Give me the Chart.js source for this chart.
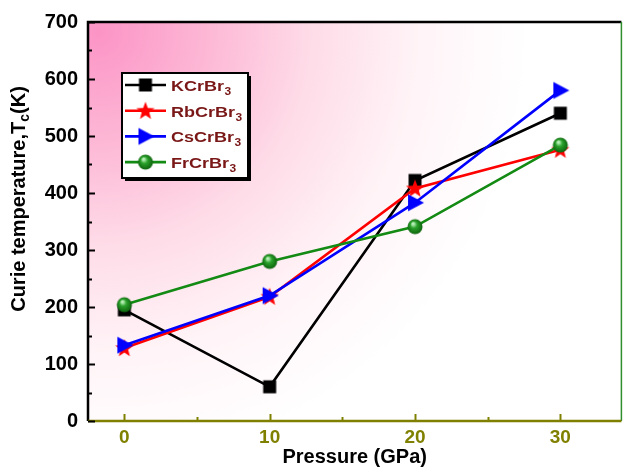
<!DOCTYPE html>
<html>
<head>
<meta charset="utf-8">
<script src="https://cdn.jsdelivr.net/npm/chart.js@4.4.1/dist/chart.umd.min.js"></script>
<style>
  body { margin: 0; background: #fff; }
  #wrap { width: 628px; height: 468px; }
</style>
</head>
<body>
<div id="wrap"><canvas id="curieChart" width="628" height="468"></canvas></div>
<script>
// pressure points (GPa) and Curie temperatures (K)
var pressure = [0, 10, 20, 30];
var tcKCrBr3 = [195, 60, 422, 540];
var tcRbCrBr3 = [128, 218, 408, 476];
var tcCsCrBr3 = [133, 220, 383, 580];
var tcFrCrBr3 = [204, 280, 341, 484];

var compounds = ['KCrBr', 'RbCrBr', 'CsCrBr', 'FrCrBr'];
var xTicks = [0, 10, 20, 30];
var yTicks = [0, 100, 200, 300, 400, 500, 600, 700];

var FONT = '"Liberation Sans", Arial, sans-serif';

// little canvases used as point markers (and reused in the legend)
function makeMarker(type, color) {
    var c = document.createElement('canvas');
    c.width = 20; c.height = 20;
    var g = c.getContext('2d');
    g.fillStyle = color;
    if (type === 'square') {
        g.fillRect(3.5, 3.5, 13, 13);
    } else if (type === 'star') {
        g.beginPath();
        for (var i = 0; i < 10; i++) {
            var r = i % 2 === 0 ? 9.5 : 4;
            var a = -Math.PI / 2 + i * Math.PI / 5;
            g.lineTo(10 + r * Math.cos(a), 10.5 + r * Math.sin(a));
        }
        g.closePath();
        g.fill();
    } else if (type === 'triangle') {
        g.beginPath();
        g.moveTo(19, 10);
        g.lineTo(3, 1.5);
        g.lineTo(3, 18.5);
        g.closePath();
        g.fill();
    } else if (type === 'ball') {
        var grad = g.createRadialGradient(8, 7, 1, 10, 10, 8);
        grad.addColorStop(0, '#b8f0b8');
        grad.addColorStop(0.35, '#2aa12a');
        grad.addColorStop(1, '#0b5e0b');
        g.fillStyle = grad;
        g.beginPath();
        g.arc(10, 10, 7.5, 0, Math.PI * 2);
        g.fill();
    }
    return c;
}

var markers = [
    makeMarker('square', '#000000'),
    makeMarker('star', '#ff0000'),
    makeMarker('triangle', '#0000ff'),
    makeMarker('ball', '#138a13')
];
var lineColors = ['#000000', '#ff0000', '#0000ff', '#138a13'];
var series = [tcKCrBr3, tcRbCrBr3, tcCsCrBr3, tcFrCrBr3];

function toPoints(vals) {
    return vals.map(function(v, i) { return { x: pressure[i], y: v }; });
}

var datasets = series.map(function(vals, i) {
    return {
        label: compounds[i] + '3',
        data: toPoints(vals),
        borderColor: lineColors[i],
        backgroundColor: lineColors[i],
        borderWidth: 2.6,
        pointStyle: markers[i],
        order: 4 - i
    };
});

// pink glow behind the plot
var bgPlugin = {
    id: 'bg',
    beforeDraw: function(chart) {
        var a = chart.chartArea, ctx = chart.ctx;
        ctx.save();
        var grad = ctx.createRadialGradient(a.left + 10, a.top + 10, 0, a.left + 10, a.top + 10, 430);
        grad.addColorStop(0, 'rgb(252,148,198)');
        grad.addColorStop(0.25, 'rgb(253,183,213)');
        grad.addColorStop(0.5, 'rgb(254,220,232)');
        grad.addColorStop(0.75, 'rgb(255,244,247)');
        grad.addColorStop(1, 'rgb(255,255,255)');
        ctx.fillStyle = grad;
        ctx.fillRect(a.left, a.top, a.right - a.left, a.bottom - a.top);
        ctx.restore();
    }
};

// frame, inward ticks, y title and legend
var decoPlugin = {
    id: 'deco',
    afterDraw: function(chart) {
        var ctx = chart.ctx, a = chart.chartArea;
        var xs = chart.scales.x, ys = chart.scales.y;
        ctx.save();

        // frame
        ctx.lineWidth = 2.5;
        ctx.strokeStyle = '#000';
        ctx.beginPath();
        ctx.moveTo(a.left, a.bottom);
        ctx.lineTo(a.left, a.top);
        ctx.lineTo(a.right, a.top);
        ctx.stroke();
        ctx.strokeStyle = '#2f8f2f';
        ctx.lineWidth = 1.5;
        ctx.beginPath();
        ctx.moveTo(a.right, a.top);
        ctx.lineTo(a.right, a.bottom);
        ctx.stroke();
        ctx.strokeStyle = '#808000';
        ctx.lineWidth = 2.5;
        ctx.beginPath();
        ctx.moveTo(a.left, a.bottom);
        ctx.lineTo(a.right, a.bottom);
        ctx.stroke();

        // y ticks
        ctx.strokeStyle = '#000';
        ctx.lineWidth = 2;
        for (var v = 0; v <= 700; v += 50) {
            var py = Math.round(ys.getPixelForValue(v)) + 0.5;
            var len = v % 100 === 0 ? 7 : 4;
            ctx.beginPath();
            ctx.moveTo(a.left, py);
            ctx.lineTo(a.left + len, py);
            ctx.stroke();
        }
        // x ticks
        ctx.strokeStyle = '#808000';
        for (var p = 0; p <= 30; p += 5) {
            var px = Math.round(xs.getPixelForValue(p)) + 0.5;
            var l2 = p % 10 === 0 ? 7 : 4;
            ctx.beginPath();
            ctx.moveTo(px, a.bottom);
            ctx.lineTo(px, a.bottom - l2);
            ctx.stroke();
        }

        // y axis title with subscript
        ctx.fillStyle = '#000';
        ctx.translate(25, 199);
        ctx.rotate(-Math.PI / 2);
        var t1 = 'Curie temperature,T', t2 = 'c', t3 = '(K)';
        ctx.font = 'bold 20px ' + FONT;
        var w1 = ctx.measureText(t1).width, w3 = ctx.measureText(t3).width;
        ctx.font = 'bold 14px ' + FONT;
        var w2 = ctx.measureText(t2).width;
        var x0 = -(w1 + w2 + w3) / 2;
        ctx.textBaseline = 'alphabetic';
        ctx.font = 'bold 20px ' + FONT;
        ctx.fillText(t1, x0, 0);
        ctx.font = 'bold 14px ' + FONT;
        ctx.fillText(t2, x0 + w1, 4);
        ctx.font = 'bold 20px ' + FONT;
        ctx.fillText(t3, x0 + w1 + w2, 0);
        ctx.restore();

        // legend
        ctx.save();
        var bx = 122, by = 73, bw = 126, bh = 105;
        ctx.fillStyle = '#000';
        ctx.fillRect(bx + 3, by + 3, bw, bh);
        ctx.fillStyle = '#fff';
        ctx.fillRect(bx, by, bw, bh);
        ctx.strokeStyle = '#000';
        ctx.lineWidth = 2;
        ctx.strokeRect(bx, by, bw, bh);
        for (var i = 0; i < compounds.length; i++) {
            var ry = by + 12 + i * 25.7;
            ctx.strokeStyle = lineColors[i];
            ctx.lineWidth = 2.6;
            ctx.beginPath();
            ctx.moveTo(bx + 3, ry);
            ctx.lineTo(bx + 44, ry);
            ctx.stroke();
            ctx.drawImage(markers[i], bx + 23.5 - 10, ry - 10);
            ctx.save();
            ctx.translate(bx + 49, ry + 6);
            ctx.scale(1.2, 1);
            ctx.fillStyle = '#7a1818';
            ctx.font = 'bold 15px ' + FONT;
            ctx.fillText(compounds[i], 0, 0);
            var tw = ctx.measureText(compounds[i]).width;
            ctx.font = 'bold 10px ' + FONT;
            ctx.fillText('3', tw + 0.5, 4);
            ctx.restore();
        }
        ctx.restore();
    }
};

var ctx = document.getElementById('curieChart').getContext('2d');
window.curieChart = new Chart(ctx, {
    type: 'line',
    data: { datasets: datasets },
    plugins: [bgPlugin, decoPlugin],
    options: {
        responsive: false,
        animation: false,
        layout: { padding: { left: 0, top: 21, right: 1, bottom: 0 } },
        plugins: { legend: { display: false }, tooltip: { enabled: false } },
        scales: {
            x: {
                type: 'linear',
                min: -2.5,
                max: 34.2,
                grid: { display: false, drawTicks: false },
                border: { display: false },
                afterBuildTicks: function(scale) {
                    scale.ticks = xTicks.map(function(v) { return { value: v }; });
                },
                afterFit: function(scale) { scale.height = 47; },
                ticks: {
                    color: '#808000',
                    padding: 5,
                    maxRotation: 0,
                    font: { family: FONT, size: 19, weight: 'bold' }
                },
                title: {
                    display: true,
                    text: 'Pressure (GPa)',
                    color: '#000',
                    padding: { top: 0, bottom: -1 },
                    font: { family: FONT, size: 20, weight: 'bold' }
                }
            },
            y: {
                min: 0,
                max: 700,
                grid: { display: false, drawTicks: false },
                border: { display: false },
                afterBuildTicks: function(scale) {
                    scale.ticks = yTicks.map(function(v) { return { value: v }; });
                },
                afterFit: function(scale) { scale.width = 88; },
                ticks: {
                    color: '#000',
                    padding: 10,
                    font: { family: FONT, size: 20, weight: 'bold' }
                }
            }
        }
    }
});
</script>
</body>
</html>
